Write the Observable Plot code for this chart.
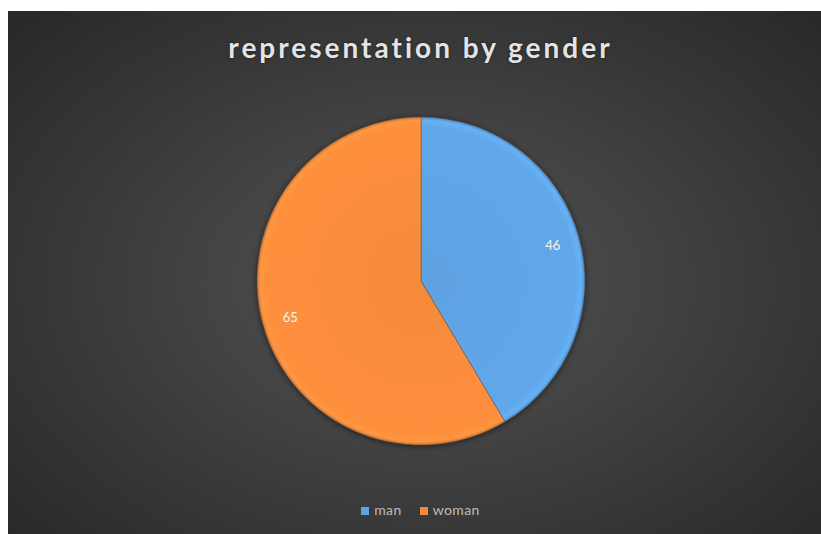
<!DOCTYPE html>
<html>
<head>
<meta charset="utf-8">
<script src="https://cdn.jsdelivr.net/npm/d3@7"></script>
<script src="https://cdn.jsdelivr.net/npm/@observablehq/plot@0.6"></script>
<style>
  html, body { margin: 0; padding: 0; background: #ffffff; width: 821px; height: 534px; overflow: hidden; }
  #panel {
    position: absolute; left: 8px; top: 11px; width: 813px; height: 523px;
    background: radial-gradient(ellipse 70% 75% at 51% 52%, #4f4f4f 0%, #454545 35%, #353535 70%, #282828 100%);
  }
  #title {
    position: absolute; left: 0; top: 30px; width: 841px; text-align: center;
    font-family: Lato, "Open Sans", sans-serif; font-weight: 700; font-size: 28px;
    letter-spacing: 3px; color: #e4e4e4; text-shadow: 0 0 3px rgba(0,0,0,0.5);
  }
  #chart { position: absolute; left: 0; top: 81px; }
  #legend {
    position: absolute; left: 0; top: 501px; width: 841px; text-align: center;
    font-family: Lato, "Open Sans", sans-serif; font-size: 14px; letter-spacing: 0.4px; color: #bdbdbd;
  }
  #legend span.item { margin: 0 9px; }
  #legend span.sw { display: inline-block; width: 8px; height: 8px; margin-right: 5px; vertical-align: 0px; }
</style>
</head>
<body>
<div id="panel"></div>
<div id="title">representation by gender</div>
<div id="chart"></div>
<div id="legend"></div>
<script>
const categories = ["man", "woman"];
const values = [46, 65];
const colors = ["#5ea2e2", "#f58a3b"];

const data = categories.map((c, i) => ({category: c, value: values[i]}));
const arcs = d3.pie().sort(null).value(d => d.value)(data);
const labelR = 0.83;
const labels = arcs.map(a => {
  const mid = (a.startAngle + a.endAngle) / 2;
  return {category: a.data.category, value: a.data.value, lx: labelR * Math.sin(mid), ly: labelR * Math.cos(mid)};
});

function pieMark(index, scales, values, dimensions, context) {
  const cx = scales.x(0), cy = scales.y(0);
  const r = Math.abs(scales.x(1) - scales.x(0));
  const g = d3.create("svg:g");
  const defs = g.append("defs");
  const f = defs.append("filter").attr("id", "shadow").attr("x", "-20%").attr("y", "-20%").attr("width", "140%").attr("height", "140%");
  f.append("feGaussianBlur").attr("in", "SourceAlpha").attr("stdDeviation", 3);
  f.append("feOffset").attr("dx", 0).attr("dy", 1).attr("result", "b");
  f.append("feFlood").attr("flood-color", "#000").attr("flood-opacity", 0.55);
  f.append("feComposite").attr("in2", "b").attr("operator", "in");
  const m = f.append("feMerge");
  m.append("feMergeNode");
  m.append("feMergeNode").attr("in", "SourceGraphic");
  arcs.forEach((a, i) => {
    const base = d3.color(scales.color(a.data.category));
    const gr = defs.append("radialGradient").attr("id", "grad" + i)
      .attr("gradientUnits", "userSpaceOnUse").attr("cx", 0).attr("cy", 0).attr("r", r);
    gr.append("stop").attr("offset", "0%").attr("stop-color", base.formatHex());
    gr.append("stop").attr("offset", "94%").attr("stop-color", base.brighter(0.1).formatHex());
    gr.append("stop").attr("offset", "98%").attr("stop-color", base.brighter(0.25).formatHex());
    gr.append("stop").attr("offset", "100%").attr("stop-color", base.darker(0.5).formatHex());
  });
  const arc = d3.arc().innerRadius(0).outerRadius(r);
  g.append("g").attr("transform", `translate(${cx},${cy})`).attr("filter", "url(#shadow)")
    .selectAll("path").data(arcs).join("path")
    .attr("d", arc)
    .attr("fill", (d, i) => `url(#grad${i})`)
    .attr("stroke", "rgba(70,70,70,0.5)").attr("stroke-width", 0.8);
  return g.node();
}

const plot = Plot.plot({
  width: 821,
  height: 400,
  margin: 0,
  style: {background: "transparent", overflow: "visible"},
  x: {domain: [-1, 1], range: [257, 585], axis: null},
  y: {domain: [-1, 1], range: [364, 36], axis: null},
  color: {domain: categories, range: colors},
  marks: [
    pieMark,
    Plot.text(labels, {
      x: "lx", y: "ly", text: d => String(d.value),
      fill: "#f4f4f4", fontSize: 13, fontFamily: "Lato, 'Open Sans', sans-serif"
    })
  ]
});
document.getElementById("chart").appendChild(plot);

const legend = d3.select("#legend");
categories.forEach((c, i) => {
  const item = legend.append("span").attr("class", "item");
  item.append("span").attr("class", "sw").style("background", colors[i]);
  item.append("span").text(c);
});
</script>
</body>
</html>
